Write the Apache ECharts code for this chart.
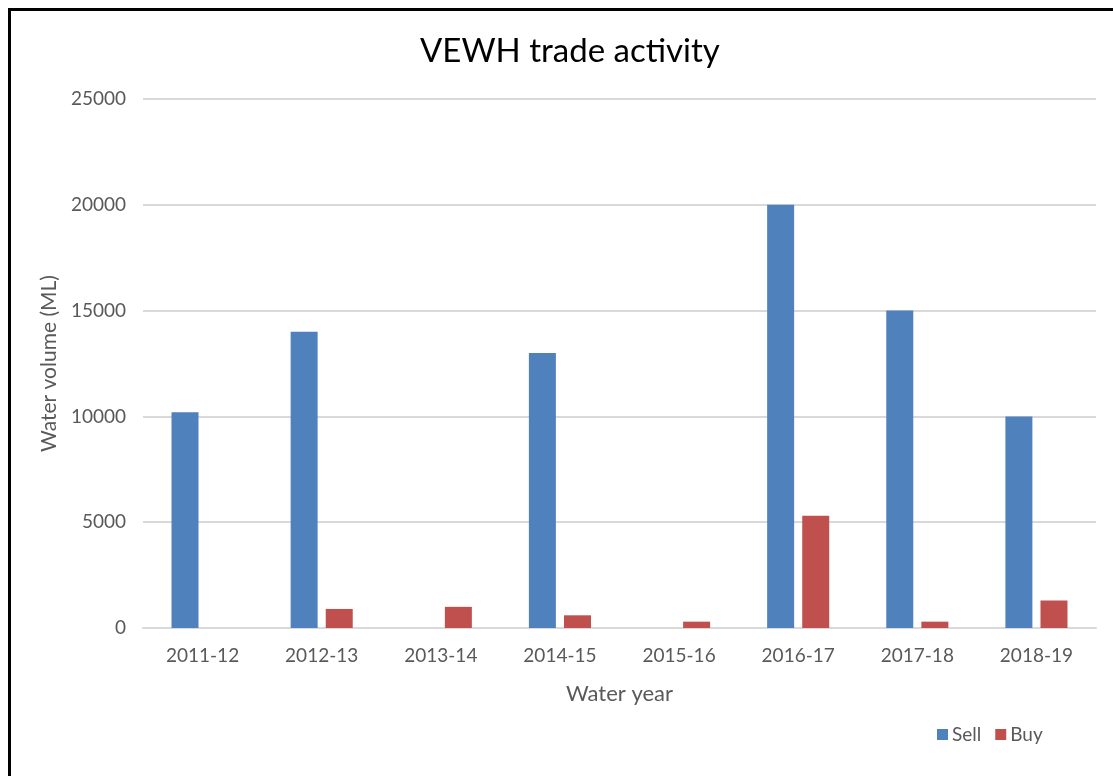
<!DOCTYPE html>
<html>
<head>
<meta charset="utf-8">
<script src="https://cdn.jsdelivr.net/npm/echarts@6/dist/echarts.min.js"></script>
<style>
  html, body { margin: 0; padding: 0; background: #fff; }
  #tradeChart { width: 1113px; height: 776px; }
</style>
</head>
<body>
<div id="tradeChart"></div>
<script>
  // 数据
  var years = ['2011-12', '2012-13', '2013-14', '2014-15', '2015-16', '2016-17', '2017-18', '2018-19'];
  var sellVolume = [10200, 14000, 0, 13000, 0, 20000, 15000, 10000];
  var buyVolume = [0, 900, 1000, 600, 300, 5300, 300, 1300];

  var font = 'Lato, "Open Sans", sans-serif';
  var grey = '#595959';

  var myChart = echarts.init(document.getElementById('tradeChart'));
  var option = {
    backgroundColor: '#fff',
    title: {
      text: 'VEWH trade activity',
      left: 415,
      top: 30,
      textStyle: { fontFamily: font, fontSize: 33, fontWeight: 'normal', color: '#000' }
    },
    legend: {
      data: ['Sell', 'Buy'],
      left: 932,
      top: 720,
      itemWidth: 11,
      itemHeight: 11,
      itemGap: 14,
      icon: 'rect',
      textStyle: { fontFamily: font, fontSize: 19, color: grey, padding: [0, 0, 0, -1] }
    },
    grid: { left: 143, right: 17, top: 99, bottom: 148 },
    xAxis: {
      type: 'category',
      data: years,
      name: 'Water year',
      nameLocation: 'middle',
      nameGap: 55,
      nameTextStyle: { fontFamily: font, fontSize: 22, color: grey },
      axisTick: { show: false },
      axisLine: { lineStyle: { color: '#d9d9d9', width: 2 } },
      axisLabel: { fontFamily: font, fontSize: 19, color: grey, margin: 18 }
    },
    yAxis: {
      type: 'value',
      min: 0,
      max: 25000,
      interval: 5000,
      name: 'Water volume (ML)',
      nameLocation: 'middle',
      nameGap: 79,
      nameTextStyle: { fontFamily: font, fontSize: 21, color: grey },
      axisLine: { show: false },
      axisTick: { show: false },
      axisLabel: {
        fontFamily: font, fontSize: 19, color: grey, margin: 17,
        formatter: function (v) { return String(v); }
      },
      splitLine: { lineStyle: { color: '#d9d9d9', width: 2 } }
    },
    series: [
      {
        name: 'Sell',
        type: 'bar',
        data: sellVolume,
        barWidth: 27,
        barGap: '30%',
        itemStyle: { color: '#4f81bd' }
      },
      {
        name: 'Buy',
        type: 'bar',
        data: buyVolume,
        barWidth: 27,
        itemStyle: { color: '#c0504d' }
      }
    ],
    graphic: [
      { type: 'line', shape: { x1: 8, y1: 9.5, x2: 1113, y2: 9.5 }, style: { stroke: '#000', lineWidth: 3 } },
      { type: 'line', shape: { x1: 9.5, y1: 8, x2: 9.5, y2: 776 }, style: { stroke: '#000', lineWidth: 3 } }
    ]
  };
  myChart.setOption(option);
</script>
</body>
</html>
